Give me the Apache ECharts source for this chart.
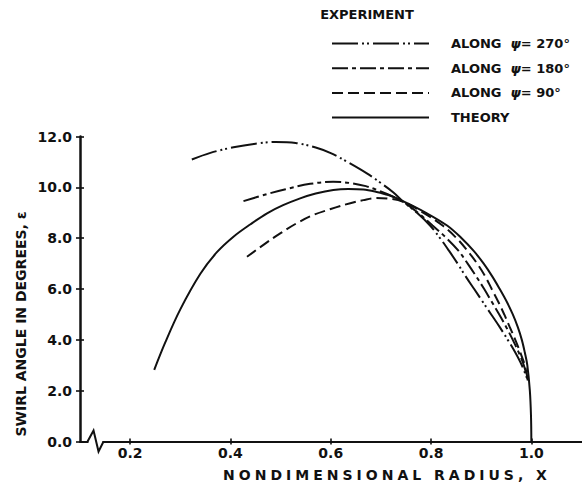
<!DOCTYPE html>
<html>
<head>
<meta charset="utf-8">
<script src="https://cdn.jsdelivr.net/npm/echarts@6/dist/echarts.min.js"></script>
<style>
  html, body { margin: 0; padding: 0; background: #fff; }
  #chart { width: 582px; height: 490px; }
</style>
</head>
<body>
<div id="chart"></div>
<script>
// Swirl angle against nondimensional radius: theory and three measured traverses.
const seriesNames = ['ALONG  ψ= 270°', 'ALONG  ψ= 180°', 'ALONG  ψ= 90°', 'THEORY'];

// [radius X, swirl angle in degrees]
const psi270 = [
  [0.323, 11.10], [0.36, 11.36], [0.406, 11.58], [0.45, 11.72], [0.49, 11.79],
  [0.53, 11.75], [0.57, 11.57], [0.60, 11.35], [0.635, 10.98], [0.672, 10.55],
  [0.70, 10.17], [0.725, 9.80], [0.745, 9.43], [0.772, 9.00], [0.798, 8.50],
  [0.818, 8.00], [0.836, 7.50], [0.853, 7.00], [0.869, 6.50], [0.886, 6.00],
  [0.903, 5.50], [0.920, 5.00], [0.937, 4.50], [0.953, 4.00], [0.968, 3.50],
  [0.981, 3.00], [0.993, 2.40]
];
const psi180 = [
  [0.426, 9.46], [0.47, 9.72], [0.51, 9.93], [0.559, 10.14], [0.605, 10.22],
  [0.64, 10.17], [0.67, 10.05], [0.695, 9.88], [0.72, 9.68], [0.745, 9.43],
  [0.774, 9.00], [0.803, 8.50], [0.831, 8.00], [0.855, 7.50], [0.873, 7.00],
  [0.890, 6.50], [0.906, 6.00], [0.921, 5.50], [0.936, 5.00], [0.950, 4.50],
  [0.963, 4.00], [0.975, 3.50], [0.985, 3.00], [0.993, 2.40]
];
const psi90 = [
  [0.433, 7.27], [0.47, 7.80], [0.50, 8.20], [0.533, 8.60], [0.566, 8.92],
  [0.60, 9.15], [0.639, 9.38], [0.665, 9.50], [0.69, 9.58], [0.715, 9.56],
  [0.745, 9.43], [0.785, 9.00], [0.823, 8.50], [0.851, 8.00], [0.873, 7.50],
  [0.892, 7.00], [0.908, 6.50], [0.921, 6.00], [0.934, 5.50], [0.946, 5.00],
  [0.957, 4.50], [0.968, 4.00], [0.978, 3.50], [0.987, 3.00], [0.993, 2.40]
];
const theory = [
  [0.248, 2.82], [0.27, 3.90], [0.30, 5.20], [0.34, 6.60], [0.373, 7.45],
  [0.406, 8.06], [0.44, 8.55], [0.473, 8.98], [0.505, 9.30], [0.539, 9.57],
  [0.57, 9.76], [0.605, 9.90], [0.635, 9.94], [0.665, 9.92], [0.69, 9.83],
  [0.715, 9.70], [0.745, 9.45], [0.790, 9.00], [0.832, 8.50], [0.861, 8.00],
  [0.885, 7.50], [0.905, 7.00], [0.922, 6.50], [0.937, 6.00], [0.951, 5.50],
  [0.963, 5.00], [0.973, 4.50], [0.981, 4.00], [0.987, 3.50], [0.992, 3.00],
  [0.997, 2.00], [0.9993, 1.00], [1.0, 0.0]
];

const xTickValues = [0.2, 0.4, 0.6, 0.8, 1.0];
const xRange = [0.1, 1.1];
const yRange = [0, 12];
const yStep = 2;

const FONT = 'DejaVu Sans';
const INK = '#111';

const seriesData = [psi270, psi180, psi90, theory];
const dashes = [[26, 4, 2, 3, 2, 4], [16, 4, 4, 4], [11, 5], null];

const grid = { left: 80, right: 0.5, top: 136.6, bottom: 48.5 };
const gridW = 582 - grid.left - grid.right;
const gridH = 490 - grid.top - grid.bottom;

const chart = echarts.init(document.getElementById('chart'), null, { renderer: 'svg' });

const tickStyle = { color: INK, width: 1.6 };

chart.setOption({
  animation: false,
  backgroundColor: '#fff',
  grid: Object.assign({ containLabel: false, outerBoundsMode: 'none' }, grid),
  legend: {
    orient: 'vertical',
    left: 326,
    top: 32,
    itemWidth: 97,
    itemHeight: 14,
    itemGap: 11.7,
    selectedMode: false,
    data: seriesNames,
    itemStyle: { opacity: 0 },
    formatter: n => n.replace('ψ', '{p|ψ}'),
    textStyle: {
      fontFamily: FONT, fontSize: 13, fontWeight: 'bold', color: INK,
      padding: [0, 0, 0, 17],
      rich: { p: { fontFamily: FONT, fontSize: 13, fontWeight: 'bold', fontStyle: 'italic', color: INK } }
    }
  },
  xAxis: [
    {
      type: 'value', min: xRange[0], max: xRange[1], position: 'bottom',
      axisLine: { show: true, lineStyle: { color: INK, width: 2 } },
      axisTick: { show: true, inside: false, length: 3, lineStyle: tickStyle, customValues: xTickValues },
      axisLabel: {
        show: true, customValues: xTickValues, margin: 4,
        formatter: v => v.toFixed(1),
        fontFamily: FONT, fontSize: 14, fontWeight: 'bold', color: INK
      },
      splitLine: { show: false }
    },
    {
      // upward half of the crossing ticks on the bottom axis
      type: 'value', min: xRange[0], max: xRange[1], position: 'top', offset: -gridH,
      axisLine: { show: false },
      axisTick: { show: true, inside: false, length: 3, lineStyle: tickStyle, customValues: xTickValues },
      axisLabel: { show: false },
      splitLine: { show: false }
    }
  ],
  yAxis: [
    {
      type: 'value', min: yRange[0], max: yRange[1], interval: yStep, position: 'left',
      axisLine: { show: true, lineStyle: { color: INK, width: 2.5 } },
      axisTick: { show: true, inside: false, length: 4, lineStyle: tickStyle },
      axisLabel: {
        show: true, margin: 8,
        formatter: v => v.toFixed(1),
        fontFamily: FONT, fontSize: 14, fontWeight: 'bold', color: INK
      },
      splitLine: { show: false }
    },
    {
      // right-pointing half of the crossing ticks on the left axis
      type: 'value', min: yRange[0], max: yRange[1], interval: yStep, position: 'right', offset: -gridW,
      axisLine: { show: false },
      axisTick: { show: true, inside: false, length: 4, lineStyle: tickStyle },
      axisLabel: { show: false },
      splitLine: { show: false }
    }
  ],
  series: seriesNames.map((name, i) => ({
    name: name,
    type: 'line',
    xAxisIndex: 0,
    yAxisIndex: 0,
    data: seriesData[i],
    smooth: 0.35,
    symbol: 'none',
    showSymbol: false,
    silent: true,
    color: INK,
    lineStyle: { color: INK, width: 2, type: dashes[i] ? dashes[i] : 'solid' },
    z: i === 3 ? 3 : 2
  }))
});

// Axis break mark near the origin and the text blocks around the plot.
const brk = chart.convertToPixel({ xAxisIndex: 0 }, 0.125);
const axisY = chart.convertToPixel({ yAxisIndex: 0 }, 0);

chart.setOption({
  graphic: [
    {
      type: 'rect', z: 100,
      shape: { x: brk - 4, y: axisY - 2.5, width: 14, height: 5 },
      style: { fill: '#fff' }
    },
    {
      type: 'polyline', z: 101,
      shape: { points: [[brk - 5, axisY], [brk + 1, axisY - 11], [brk + 6, axisY + 10], [brk + 11, axisY]] },
      style: { stroke: INK, lineWidth: 2, fill: null }
    },
    {
      type: 'text', z: 101, x: 367, y: 14,
      style: { text: 'EXPERIMENT', align: 'center', verticalAlign: 'middle',
               font: 'bold 13px "DejaVu Sans"', fill: INK }
    },
    {
      type: 'text', z: 101, x: 387, y: 475,
      style: { text: 'NONDIMENSIONAL RADIUS, X', align: 'center', verticalAlign: 'middle',
               font: 'bold 14px "DejaVu Sans"', fill: INK }
    },
    {
      type: 'text', z: 101, x: 21, y: 324, rotation: Math.PI / 2,
      style: { text: 'SWIRL ANGLE IN DEGREES, ε', align: 'center', verticalAlign: 'middle',
               font: 'bold 14px "DejaVu Sans"', fill: INK }
    }
  ]
});

// The horizontal axis title is set with open letter spacing.
document.querySelectorAll('#chart svg text').forEach(t => {
  if (t.textContent === 'NONDIMENSIONAL RADIUS, X') {
    t.style.letterSpacing = '4px';
  }
});
</script>
</body>
</html>
